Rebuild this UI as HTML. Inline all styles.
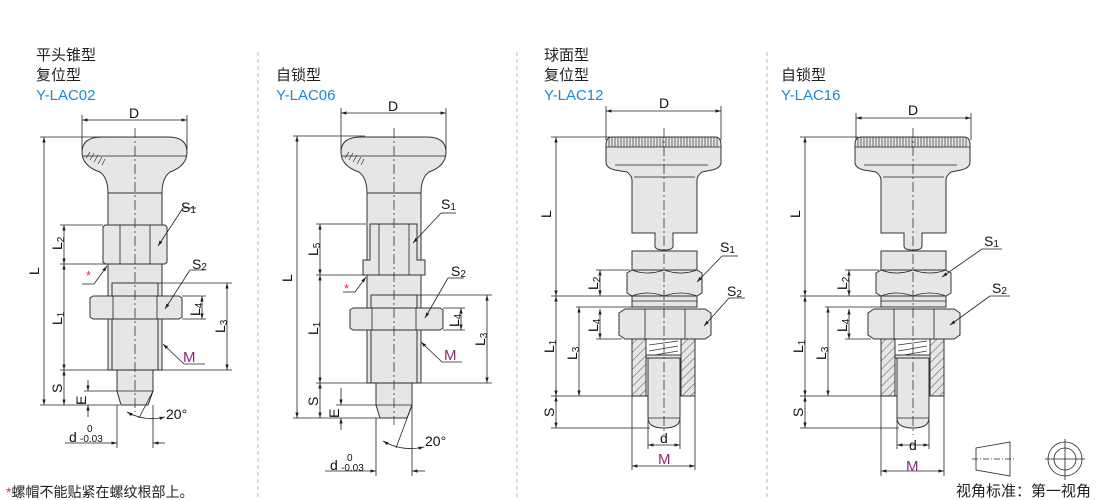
<!DOCTYPE html>
<html><head><meta charset="utf-8"><style>
body{margin:0;background:#fff;}
svg{display:block;}
text{font-family:"Liberation Sans","Noto Sans CJK SC",sans-serif;}
.t{font-size:15px;fill:#222;}
.b{font-size:15px;fill:#1a8ad4;}
.m{font-size:15px;fill:#8a2a7a;}
.d{font-size:14px;fill:#111;}
.s{font-size:10px;fill:#111;}
.p{fill:#e6e6e6;stroke:#333;stroke-width:1;}
.ln{stroke:#222;stroke-width:0.8;fill:none;}
.cl{stroke:#333;stroke-width:0.8;stroke-dasharray:10,3,2,3;fill:none;}
.h{stroke:#333;stroke-width:0.7;}
</style></head><body>
<svg width="1110" height="500" viewBox="0 0 1110 500" xmlns="http://www.w3.org/2000/svg">
<defs>
<marker id="a" viewBox="0 0 10 10" refX="10" refY="5" markerWidth="7" markerHeight="7" orient="auto-start-reverse"><path d="M0,2 L10,5 L0,8 z" fill="#222"/></marker>
<pattern id="hat" width="6" height="6" patternUnits="userSpaceOnUse" patternTransform="rotate(45)"><rect width="6" height="6" fill="#e6e6e6"/><line x1="0" y1="0" x2="0" y2="6" stroke="#333" stroke-width="0.8"/></pattern>
</defs>
<!-- dividers -->
<g stroke="#bbb" stroke-dasharray="4,3" stroke-width="1">
<line x1="258" y1="52" x2="258" y2="500"/><line x1="517" y1="52" x2="517" y2="500"/><line x1="767" y1="52" x2="767" y2="500"/>
</g>
<!-- titles -->
<text class="t" x="36" y="60">平头锥型</text><text class="t" x="36" y="80">复位型</text><text class="b" x="36" y="100">Y-LAC02</text>
<text class="t" x="276" y="80">自锁型</text><text class="b" x="276" y="100">Y-LAC06</text>
<text class="t" x="544" y="60">球面型</text><text class="t" x="544" y="80">复位型</text><text class="b" x="544" y="100">Y-LAC12</text>
<text class="t" x="781" y="80">自锁型</text><text class="b" x="781" y="100">Y-LAC16</text>

<!-- ===== Panel 1 ===== -->
<g id="p1">
<path class="p" d="M82,152 Q82,137 102,137 L168,137 Q187,137 187,152 Q187,166 170,172 Q162,178 162,193 L108,193 Q108,178 100,172 Q82,166 82,152 Z"/>
<line class="ln" x1="82" y1="156" x2="187" y2="156"/>
<g class="h"><line x1="86" y1="158" x2="90" y2="152"/><line x1="90" y1="160" x2="94" y2="153"/><line x1="94" y1="162" x2="98" y2="155"/><line x1="98" y1="164" x2="102" y2="157"/><line x1="102" y1="165" x2="105" y2="159"/></g>
<rect class="p" x="108" y="193" width="54" height="177"/>
<rect class="p" x="112" y="283" width="46" height="87"/>
<path class="p" d="M103,227 L105,225 L165,225 L167,227 L167,262 L165,264 L105,264 L103,262 Z"/>
<line class="ln" x1="120" y1="225" x2="120" y2="264"/><line class="ln" x1="150" y1="225" x2="150" y2="264"/>
<path class="p" d="M90,298 L93,296 L179,296 L182,298 L182,317 L179,319 L93,319 L90,317 Z"/>
<line class="ln" x1="113" y1="296" x2="113" y2="319"/><line class="ln" x1="157" y1="296" x2="157" y2="319"/>
<path class="p" d="M117,370 L153,370 L153,391 L148,405 L121,405 L117,391 Z"/>
<line class="ln" x1="117" y1="391" x2="153" y2="391"/>
</g>
<line class="cl" x1="135" y1="128" x2="135" y2="412"/>
<!-- dims p1 -->
<g class="ln">
<line x1="82" y1="115" x2="82" y2="150"/><line x1="187" y1="115" x2="187" y2="150"/>
<line x1="82" y1="120" x2="187" y2="120" marker-start="url(#a)" marker-end="url(#a)"/>
<line x1="40" y1="137" x2="105" y2="137"/><line x1="40" y1="405" x2="120" y2="405"/>
<line x1="44" y1="137" x2="44" y2="405" marker-start="url(#a)" marker-end="url(#a)"/>
<line x1="60" y1="225" x2="103" y2="225"/><line x1="60" y1="264" x2="108" y2="264"/><line x1="60" y1="370" x2="232" y2="370"/>
<line x1="64" y1="225" x2="64" y2="264" marker-start="url(#a)" marker-end="url(#a)"/>
<line x1="64" y1="264" x2="64" y2="370" marker-start="url(#a)" marker-end="url(#a)"/>
<line x1="64" y1="370" x2="64" y2="405" marker-start="url(#a)" marker-end="url(#a)"/>
<line x1="84" y1="391" x2="117" y2="391"/>
<line x1="88" y1="380" x2="88" y2="391" marker-end="url(#a)"/><line x1="88" y1="417" x2="88" y2="405" marker-end="url(#a)"/>
<line x1="158" y1="283" x2="232" y2="283"/>
<line x1="227" y1="283" x2="227" y2="370" marker-start="url(#a)" marker-end="url(#a)"/>
<line x1="182" y1="296" x2="206" y2="296"/><line x1="182" y1="319" x2="206" y2="319"/>
<line x1="202" y1="296" x2="202" y2="319" marker-start="url(#a)" marker-end="url(#a)"/>
<line x1="117" y1="405" x2="117" y2="448"/><line x1="153" y1="405" x2="153" y2="448"/>
<line x1="65" y1="443" x2="117" y2="443" marker-end="url(#a)"/><line x1="165" y1="443" x2="153" y2="443" marker-end="url(#a)"/>
<line x1="153" y1="391" x2="139" y2="418"/>
<path d="M127,412 Q145,422 165,417" marker-start="url(#a)" marker-end="url(#a)"/>
<line x1="196" y1="208" x2="183" y2="208"/><line x1="183" y1="208" x2="158" y2="246" marker-end="url(#a)"/>
<line x1="205" y1="270" x2="190" y2="270"/><line x1="190" y1="270" x2="165" y2="309" marker-end="url(#a)"/>
<line x1="205" y1="364" x2="184" y2="364"/><line x1="184" y1="364" x2="163" y2="344" marker-end="url(#a)"/>
<line x1="82" y1="284" x2="94" y2="284"/><line x1="94" y1="284" x2="107" y2="266" marker-end="url(#a)"/>
</g>
<text class="d" x="129" y="118">D</text>
<text class="d" transform="translate(39,275) rotate(-90)">L</text>
<text class="d" transform="translate(62,250) rotate(-90)">L<tspan class="s" dy="2">2</tspan></text>
<text class="d" transform="translate(62,325) rotate(-90)">L<tspan class="s" dy="2">1</tspan></text>
<text class="d" transform="translate(62,393) rotate(-90)">S</text>
<text class="d" transform="translate(86,405) rotate(-90)">E</text>
<text class="d" transform="translate(225,333) rotate(-90)">L<tspan class="s" dy="2">3</tspan></text>
<text class="d" transform="translate(200,316) rotate(-90)">L<tspan class="s" dy="2">4</tspan></text>
<text class="d" x="181" y="212">S<tspan class="s" dy="1">1</tspan></text>
<text class="d" x="192" y="269">S<tspan class="s" dy="1">2</tspan></text>
<text class="m" x="183" y="362">M</text>
<text x="86" y="280" style="font-size:13px;fill:#e0208a">*</text>
<text class="d" x="166" y="419">20°</text>
<text class="d" x="69" y="442">d</text><text class="s" x="87" y="432">0</text><text class="s" x="80" y="442">-0.03</text>
<text x="6" y="497" style="font-size:14px;fill:#222"><tspan fill="#e0208a">*</tspan>螺帽不能贴紧在螺纹根部上。</text>

<!-- ===== Panel 2 ===== -->
<g transform="translate(259,0)">
<path class="p" d="M82,152 Q82,137 102,137 L168,137 Q187,137 187,152 Q187,166 170,172 Q162,178 162,193 L108,193 Q108,178 100,172 Q82,166 82,152 Z"/>
<line class="ln" x1="82" y1="156" x2="187" y2="156"/>
<g class="h"><line x1="86" y1="158" x2="90" y2="152"/><line x1="90" y1="160" x2="94" y2="153"/><line x1="94" y1="162" x2="98" y2="155"/><line x1="98" y1="164" x2="102" y2="157"/><line x1="102" y1="165" x2="105" y2="159"/></g>
<rect class="p" x="108" y="193" width="54" height="190"/>
<rect class="p" x="112" y="295" width="46" height="88"/>
<path class="p" d="M111,224 L158,224 L158,260 L166,260 L166,275 L104,275 L104,260 L111,260 Z"/>
<line class="ln" x1="120" y1="224" x2="120" y2="275"/><line class="ln" x1="150" y1="224" x2="150" y2="275"/>
<path class="p" d="M91,310 L94,308 L181,308 L184,310 L184,328 L181,330 L94,330 L91,328 Z"/>
<line class="ln" x1="113" y1="308" x2="113" y2="330"/><line class="ln" x1="157" y1="308" x2="157" y2="330"/>
<path class="p" d="M117,383 L153,383 L153,405 L148,418 L121,418 L117,405 Z"/>
<line class="ln" x1="117" y1="405" x2="153" y2="405"/>
</g>
<line class="cl" x1="394" y1="128" x2="394" y2="425"/>
<g class="ln">
<line x1="341" y1="108" x2="341" y2="150"/><line x1="446" y1="108" x2="446" y2="150"/>
<line x1="341" y1="113" x2="446" y2="113" marker-start="url(#a)" marker-end="url(#a)"/>
<line x1="293" y1="136" x2="365" y2="136"/><line x1="293" y1="418" x2="380" y2="418"/>
<line x1="297" y1="136" x2="297" y2="418" marker-start="url(#a)" marker-end="url(#a)"/>
<line x1="316" y1="224" x2="366" y2="224"/><line x1="316" y1="275" x2="367" y2="275"/><line x1="316" y1="383" x2="492" y2="383"/>
<line x1="320" y1="224" x2="320" y2="275" marker-start="url(#a)" marker-end="url(#a)"/>
<line x1="320" y1="275" x2="320" y2="383" marker-start="url(#a)" marker-end="url(#a)"/>
<line x1="320" y1="383" x2="320" y2="418" marker-start="url(#a)" marker-end="url(#a)"/>
<line x1="336" y1="405" x2="376" y2="405"/>
<line x1="341" y1="388" x2="341" y2="405" marker-end="url(#a)"/><line x1="341" y1="430" x2="341" y2="418" marker-end="url(#a)"/>
<line x1="417" y1="295" x2="492" y2="295"/>
<line x1="487" y1="295" x2="487" y2="383" marker-start="url(#a)" marker-end="url(#a)"/>
<line x1="443" y1="308" x2="465" y2="308"/><line x1="443" y1="330" x2="465" y2="330"/>
<line x1="461" y1="308" x2="461" y2="330" marker-start="url(#a)" marker-end="url(#a)"/>
<line x1="376" y1="418" x2="376" y2="476"/><line x1="412" y1="405" x2="412" y2="476"/>
<line x1="325" y1="471" x2="376" y2="471" marker-end="url(#a)"/><line x1="425" y1="471" x2="412" y2="471" marker-end="url(#a)"/>
<line x1="412" y1="405" x2="396" y2="448"/>
<path d="M383,441 Q402,452 424,447" marker-start="url(#a)" marker-end="url(#a)"/>
<line x1="456" y1="213" x2="441" y2="213"/><line x1="441" y1="213" x2="413" y2="243" marker-end="url(#a)"/>
<line x1="464" y1="278" x2="448" y2="278"/><line x1="448" y1="278" x2="425" y2="318" marker-end="url(#a)"/>
<line x1="462" y1="362" x2="442" y2="362"/><line x1="442" y1="362" x2="421" y2="342" marker-end="url(#a)"/>
<line x1="343" y1="292" x2="355" y2="292"/><line x1="355" y1="292" x2="366" y2="277" marker-end="url(#a)"/>
</g>
<text class="d" x="388" y="111">D</text>
<text class="d" transform="translate(292,282) rotate(-90)">L</text>
<text class="d" transform="translate(318,256) rotate(-90)">L<tspan class="s" dy="2">5</tspan></text>
<text class="d" transform="translate(318,335) rotate(-90)">L<tspan class="s" dy="2">1</tspan></text>
<text class="d" transform="translate(318,406) rotate(-90)">S</text>
<text class="d" transform="translate(339,418) rotate(-90)">E</text>
<text class="d" transform="translate(485,346) rotate(-90)">L<tspan class="s" dy="2">3</tspan></text>
<text class="d" transform="translate(459,327) rotate(-90)">L<tspan class="s" dy="2">4</tspan></text>
<text class="d" x="441" y="209">S<tspan class="s" dy="1">1</tspan></text>
<text class="d" x="451" y="276">S<tspan class="s" dy="1">2</tspan></text>
<text class="m" x="444" y="360">M</text>
<text x="344" y="293" style="font-size:13px;fill:#e0208a">*</text>
<text class="d" x="425" y="446">20°</text>
<text class="d" x="330" y="470">d</text><text class="s" x="347" y="461">0</text><text class="s" x="341" y="471">-0.03</text>

<!-- ===== Panel 3 & 4 shared drawing ===== -->
<g id="p3">
<path class="p" d="M606,145 Q606,137 612,137 L715,137 Q721,137 721,145 L721,162 Q721,168 712,170 L702,172 Q697,176 697,180 L697,233 L673,233 L673,246 Q673,250 664,250 Q655,250 655,246 L655,233 L632,233 L632,180 Q632,176 627,172 L615,170 Q606,168 606,162 Z"/>
<g class="h" stroke-width="0.6">
<path d="M609,137 V147 M612,137 V147 M615,137 V147 M618,137 V147 M621,137 V147 M624,137 V147 M627,137 V147 M630,137 V147 M633,137 V147 M636,137 V147 M639,137 V147 M642,137 V147 M645,137 V147 M648,137 V147 M651,137 V147 M654,137 V147 M657,137 V147 M660,137 V147 M663,137 V147 M666,137 V147 M669,137 V147 M672,137 V147 M675,137 V147 M678,137 V147 M681,137 V147 M684,137 V147 M687,137 V147 M690,137 V147 M693,137 V147 M696,137 V147 M699,137 V147 M702,137 V147 M705,137 V147 M708,137 V147 M711,137 V147 M714,137 V147 M717,137 V147"/>
</g>
<line class="ln" x1="606" y1="147" x2="721" y2="147"/>
<line class="ln" x1="615" y1="165" x2="708" y2="165"/><line class="ln" x1="634" y1="177" x2="695" y2="177"/>
<rect class="p" x="632" y="251" width="65" height="19"/>
<path class="p" d="M627,273 L632,270 L697,270 L702,273 L702,293 L697,296 L632,296 L627,293 Z"/>
<path class="ln" d="M632,270 Q647,276 664,270 Q681,276 697,270 M632,296 Q647,290 664,296 Q681,290 697,296"/>
<rect class="p" x="632" y="296" width="65" height="11"/>
<line class="ln" x1="632" y1="301" x2="697" y2="301"/>
<path class="p" d="M619,313 L625,309 L705,309 L711,313 L711,335 L705,339 L625,339 L619,335 Z"/>
<line class="ln" x1="645" y1="309" x2="645" y2="339"/><line class="ln" x1="685" y1="309" x2="685" y2="339"/>
<rect x="632" y="339" width="63" height="57" fill="url(#hat)" stroke="#333"/>
<rect x="646" y="339" width="35" height="57" fill="#fff" stroke="#333"/>
<g class="h"><line x1="649" y1="345" x2="678" y2="341"/><line x1="649" y1="351" x2="678" y2="346"/><line x1="649" y1="356" x2="678" y2="351"/></g>
<rect class="p" x="646" y="355" width="35" height="3"/>
<path class="p" d="M648,358 L680,358 L680,418 Q680,428 664,428 Q648,428 648,418 Z"/>
<line class="ln" x1="648" y1="418" x2="680" y2="418"/>
</g>
<use href="#p3" transform="translate(249,0)"/>
<line class="cl" x1="664" y1="128" x2="664" y2="435"/>
<line class="cl" x1="913" y1="128" x2="913" y2="435"/>
<!-- dims p3 -->
<g class="ln">
<line x1="606" y1="106" x2="606" y2="140"/><line x1="721" y1="106" x2="721" y2="140"/>
<line x1="606" y1="111" x2="721" y2="111" marker-start="url(#a)" marker-end="url(#a)"/>
<line x1="551" y1="137" x2="610" y2="137"/>
<line x1="556" y1="137" x2="556" y2="296" marker-start="url(#a)" marker-end="url(#a)"/>
<line x1="551" y1="296" x2="632" y2="296"/>
<line x1="556" y1="296" x2="556" y2="396" marker-start="url(#a)" marker-end="url(#a)"/>
<line x1="551" y1="396" x2="648" y2="396"/><line x1="551" y1="428" x2="650" y2="428"/>
<line x1="556" y1="396" x2="556" y2="428" marker-start="url(#a)" marker-end="url(#a)"/>
<line x1="596" y1="270" x2="630" y2="270"/>
<line x1="600" y1="270" x2="600" y2="296" marker-start="url(#a)" marker-end="url(#a)"/>
<line x1="576" y1="307" x2="632" y2="307"/>
<line x1="579" y1="307" x2="579" y2="396" marker-start="url(#a)" marker-end="url(#a)"/>
<line x1="596" y1="339" x2="622" y2="339"/>
<line x1="600" y1="309" x2="600" y2="339" marker-start="url(#a)" marker-end="url(#a)"/>
<line x1="648" y1="420" x2="648" y2="449"/><line x1="680" y1="420" x2="680" y2="449"/>
<line x1="648" y1="445" x2="680" y2="445" marker-start="url(#a)" marker-end="url(#a)"/>
<line x1="632" y1="396" x2="632" y2="470"/><line x1="695" y1="396" x2="695" y2="470"/>
<line x1="632" y1="466" x2="695" y2="466" marker-start="url(#a)" marker-end="url(#a)"/>
<line x1="738" y1="256" x2="722" y2="256"/><line x1="722" y1="256" x2="697" y2="282" marker-end="url(#a)"/>
<line x1="745" y1="298" x2="729" y2="298"/><line x1="729" y1="298" x2="704" y2="326" marker-end="url(#a)"/>
</g>
<text class="d" x="659" y="108">D</text>
<text class="d" transform="translate(551,218) rotate(-90)">L</text>
<text class="d" transform="translate(598,290) rotate(-90)">L<tspan class="s" dy="2">2</tspan></text>
<text class="d" transform="translate(554,353) rotate(-90)">L<tspan class="s" dy="2">1</tspan></text>
<text class="d" transform="translate(577,360) rotate(-90)">L<tspan class="s" dy="2">3</tspan></text>
<text class="d" transform="translate(598,332) rotate(-90)">L<tspan class="s" dy="2">4</tspan></text>
<text class="d" transform="translate(554,417) rotate(-90)">S</text>
<text class="d" x="720" y="252">S<tspan class="s" dy="1">1</tspan></text>
<text class="d" x="727" y="296">S<tspan class="s" dy="1">2</tspan></text>
<text class="d" x="660" y="443">d</text>
<text class="m" x="658" y="464">M</text>
<!-- dims p4 -->
<g class="ln">
<line x1="856" y1="113" x2="856" y2="140"/><line x1="971" y1="113" x2="971" y2="140"/>
<line x1="856" y1="118" x2="971" y2="118" marker-start="url(#a)" marker-end="url(#a)"/>
<line x1="800" y1="137" x2="858" y2="137"/>
<line x1="805" y1="137" x2="805" y2="296" marker-start="url(#a)" marker-end="url(#a)"/>
<line x1="800" y1="296" x2="881" y2="296"/>
<line x1="805" y1="296" x2="805" y2="396" marker-start="url(#a)" marker-end="url(#a)"/>
<line x1="800" y1="396" x2="897" y2="396"/><line x1="800" y1="428" x2="899" y2="428"/>
<line x1="805" y1="396" x2="805" y2="428" marker-start="url(#a)" marker-end="url(#a)"/>
<line x1="845" y1="270" x2="879" y2="270"/>
<line x1="849" y1="270" x2="849" y2="296" marker-start="url(#a)" marker-end="url(#a)"/>
<line x1="825" y1="307" x2="881" y2="307"/>
<line x1="828" y1="307" x2="828" y2="396" marker-start="url(#a)" marker-end="url(#a)"/>
<line x1="845" y1="339" x2="871" y2="339"/>
<line x1="849" y1="309" x2="849" y2="339" marker-start="url(#a)" marker-end="url(#a)"/>
<line x1="897" y1="420" x2="897" y2="449"/><line x1="929" y1="420" x2="929" y2="449"/>
<line x1="897" y1="445" x2="929" y2="445" marker-start="url(#a)" marker-end="url(#a)"/>
<line x1="881" y1="396" x2="881" y2="476"/><line x1="944" y1="396" x2="944" y2="476"/>
<line x1="881" y1="471" x2="944" y2="471" marker-start="url(#a)" marker-end="url(#a)"/>
<line x1="1002" y1="249" x2="982" y2="249"/><line x1="982" y1="249" x2="942" y2="277" marker-end="url(#a)"/>
<line x1="1010" y1="296" x2="990" y2="296"/><line x1="990" y1="296" x2="950" y2="325" marker-end="url(#a)"/>
</g>
<text class="d" x="908" y="115">D</text>
<text class="d" transform="translate(800,218) rotate(-90)">L</text>
<text class="d" transform="translate(847,290) rotate(-90)">L<tspan class="s" dy="2">2</tspan></text>
<text class="d" transform="translate(803,353) rotate(-90)">L<tspan class="s" dy="2">1</tspan></text>
<text class="d" transform="translate(826,360) rotate(-90)">L<tspan class="s" dy="2">3</tspan></text>
<text class="d" transform="translate(847,332) rotate(-90)">L<tspan class="s" dy="2">4</tspan></text>
<text class="d" transform="translate(803,417) rotate(-90)">S</text>
<text class="d" x="984" y="246">S<tspan class="s" dy="1">1</tspan></text>
<text class="d" x="992" y="293">S<tspan class="s" dy="1">2</tspan></text>
<text class="d" x="909" y="450">d</text>
<text class="m" x="906" y="471">M</text>
<!-- view symbol -->
<g class="ln">
<path d="M976,448 L1010,442 L1010,476 L976,470 Z"/>
<line x1="972" y1="459" x2="1015" y2="459" stroke-dasharray="6,2,1,2"/>
<circle cx="1065" cy="459" r="17"/><circle cx="1065" cy="459" r="11"/>
<line x1="1045" y1="459" x2="1085" y2="459"/><line x1="1065" y1="439" x2="1065" y2="480"/>
</g>
<text x="956" y="496" style="font-size:15px;fill:#222">视角标准：第一视角</text>
</svg>
</body></html>
